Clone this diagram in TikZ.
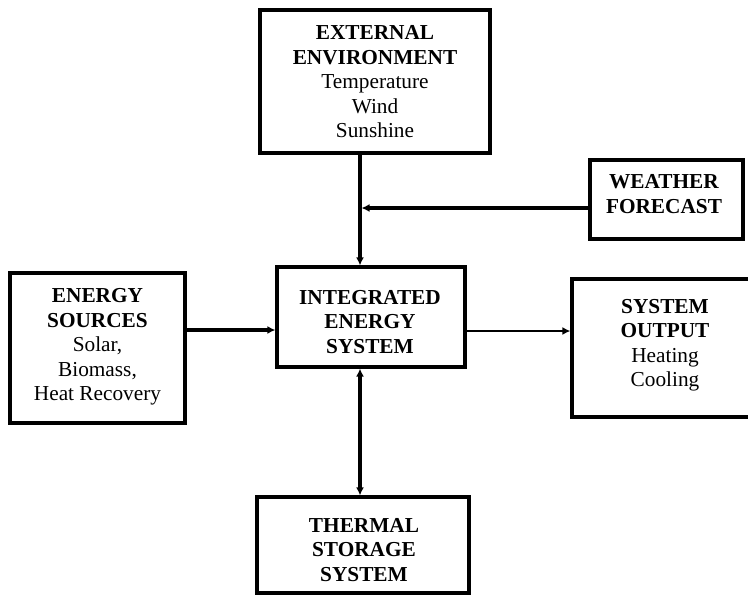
\documentclass[tikz,border=0pt]{standalone}
\usepackage{fontspec}
\setmainfont{Liberation Serif}
\usetikzlibrary{arrows.meta}
\begin{document}
\begin{tikzpicture}[x=1pt,y=-1pt,
  box/.style={draw=black,line width=3.2pt,rectangle,inner sep=0pt},
  txt/.style={align=center,inner sep=0pt,font=\fontsize{21.3}{24.5}\selectfont},
  conn/.style={line width=3.2pt,-{Latex[length=8pt,width=8pt]}},
  tip/.style={-{Latex[length=8pt,width=8pt]}}]
\useasboundingbox (0,0) rectangle (748,595);
\begin{scope}
\clip (0,0) rectangle (748,595);

% boxes
\node[box,minimum width=230pt,minimum height=143pt] (ext) at (375,81.5) {};
\node[box,minimum width=153pt,minimum height=79pt] (wf) at (666.5,199.5) {};
\node[box,minimum width=188pt,minimum height=100pt] (ies) at (371,317) {};
\node[box,minimum width=175pt,minimum height=150pt] (es) at (97.5,348) {};
\node[box,minimum width=186pt,minimum height=138pt] (so) at (665,348) {};
\node[box,minimum width=212pt,minimum height=96pt] (tss) at (363,545) {};

% texts
\node[txt] (extt) at (375,82) {\textbf{EXTERNAL}\\\textbf{ENVIRONMENT}\\Temperature\\Wind\\Sunshine};
\node[txt] (wft) at (664,194) {\textbf{WEATHER}\\\textbf{FORECAST}};
\node[txt] (iest) at (370,322) {\textbf{INTEGRATED}\\\textbf{ENERGY}\\\textbf{SYSTEM}};
\node[txt] (est) at (97.5,347) {\textbf{ENERGY}\\\textbf{SOURCES}\\Solar,\\Biomass,\\Heat Recovery};
\node[txt] (sot) at (665,345) {\textbf{SYSTEM}\\\textbf{OUTPUT}\\Heating\\Cooling};
\node[txt] (tsst) at (364,550) {\textbf{THERMAL}\\\textbf{STORAGE}\\\textbf{SYSTEM}};

% junction points of the connectors
\coordinate (jn) at (360,208);
\coordinate (lin) at (0,330);
\coordinate (rout) at (0,331);

% connectors
\draw[conn] (ext.south -| jn) -- (ies.north -| jn);
\draw[line width=4.6pt,tip] (wf.west |- jn) -- ([xshift=1.5pt]jn);
\draw[conn] (es.east |- lin) -- (ies.west |- lin);
\draw[line width=2pt,tip] (ies.east |- rout) -- (so.west |- rout);
\draw[line width=3.2pt,{Latex[length=8pt,width=8pt]}-{Latex[length=8pt,width=8pt]}] (ies.south -| jn) -- (tss.north -| jn);
\end{scope}
\end{tikzpicture}
\end{document}
